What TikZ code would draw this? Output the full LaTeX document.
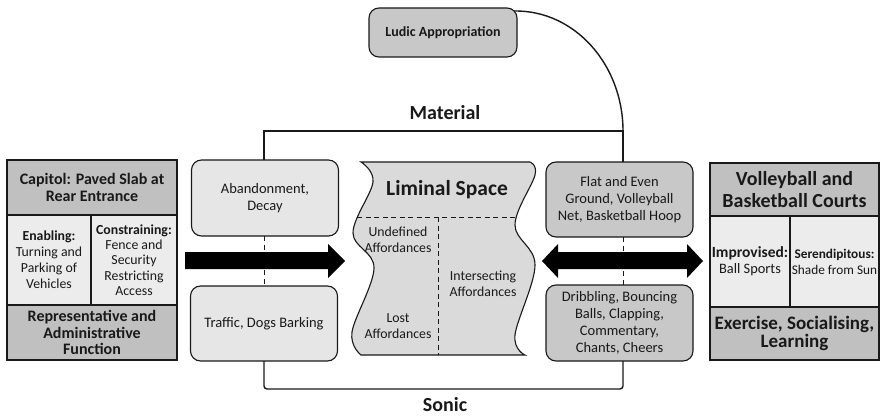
\documentclass[tikz,border=0pt]{standalone}
\usepackage{fontspec}
\setmainfont{Carlito}
\usetikzlibrary{calc}

\definecolor{headgray}{RGB}{192,192,192}
\definecolor{cellgray}{RGB}{236,236,236}
\definecolor{lightbox}{RGB}{230,230,230}
\definecolor{darkbox}{RGB}{200,200,200}
\definecolor{limgray}{RGB}{218,218,218}
\definecolor{ink}{RGB}{25,25,25}

\newcommand\fs[2]{\fontsize{#1}{#2}\selectfont}
% outline of the liminal space: wavy left and right edges
\newcommand\limpath{plot[smooth, tension=0.6] coordinates {(361,162) (373,182) (353,233) (374,268) (352,332) (361,355)}
  -- plot[smooth, tension=0.6] coordinates {(525,355) (515,335) (535,265) (515,225) (535,175) (530,162)} -- cycle}

\begin{document}
\begin{tikzpicture}[x=1pt,y=-1pt,
  every node/.style={inner sep=0pt, outer sep=0pt, text=ink},
  cell/.style={draw=ink, line width=1.2pt, rectangle, align=center},
  headcell/.style={cell, fill=headgray},
  midcell/.style={cell, fill=cellgray},
  roundbox/.style={draw=ink, line width=1.1pt, rounded corners=10pt, rectangle, align=center,
    minimum width=147pt, font=\fs{14.5}{17}},
  lightround/.style={roundbox, fill=lightbox},
  darkround/.style={roundbox, fill=darkbox},
  link/.style={draw=ink, line width=1.4pt},
  dashlink/.style={draw=ink, line width=1pt, dash pattern=on 5pt off 3.5pt},
  bigarrow/.style={fill=black, draw=none},
  label/.style={font=\bfseries\fs{20}{22}},
  limtext/.style={font=\fs{13.8}{16}, align=center}
]
\useasboundingbox (0,0) rectangle (881,417);
\fill[white] (0,0) rectangle (881,417);

% ---- left block: Capitol ----
\node[headcell, minimum width=170pt, minimum height=55pt, font=\bfseries\fs{16}{17}] (capH) at (92,187.5)
  {Capitol: Paved Slab at\\Rear Entrance};
\node[midcell, minimum width=84pt, minimum height=90pt, font=\fs{13.8}{16}] (capE) at (49,260)
  {\textbf{Enabling:}\\Turning and\\Parking of\\Vehicles};
\node[midcell, minimum width=86pt, minimum height=90pt, font=\fs{13.8}{15.3}] (capC) at (134,260)
  {\textbf{Constraining:}\\Fence and\\Security\\Restricting\\Access};
\node[headcell, minimum width=170pt, minimum height=55pt, font=\bfseries\fs{16}{16.5}] (capF) at (92,332.5)
  {Representative and\\Administrative\\Function};

% ---- right block: courts ----
\node[headcell, minimum width=169pt, minimum height=53pt, font=\bfseries\fs{20}{22}] (crtH) at (794.5,189.5)
  {Volleyball and\\Basketball Courts};
\node[midcell, minimum width=80pt, minimum height=91pt, font=\fs{14.4}{16}] (crtI) at (750,261.5)
  {{\bfseries\fs{15.5}{16}Improvised:}\\Ball Sports};
\node[midcell, minimum width=89pt, minimum height=91pt, font=\fs{13.3}{16}] (crtS) at (834.5,261.5)
  {\textbf{Serendipitous:}\\Shade from Sun};
\node[headcell, minimum width=169pt, minimum height=53pt, font=\bfseries\fs{19}{18.5}] (crtF) at (794.5,333.5)
  {Exercise, Socialising,\\Learning};

% ---- Ludic appropriation ----
\node[darkround, minimum width=148pt, minimum height=49pt, font=\bfseries\fs{14}{16}] (ludic) at (443,32.5)
  {Ludic Appropriation};

% ---- material / sonic boxes ----
\node[lightround, minimum height=76pt] (aband) at (265,198) {Abandonment,\\Decay};
\node[lightround, minimum height=75pt] (traffic) at (264,323.5) {Traffic, Dogs Barking};
\node[darkround, minimum height=75pt] (flat) at (619.5,199.5) {Flat and Even\\Ground, Volleyball\\Net, Basketball Hoop};
\node[darkround, minimum height=76pt] (drib) at (619.5,323) {Dribbling, Bouncing\\Balls, Clapping,\\Commentary,\\Chants, Cheers};

% ---- liminal space ----
\draw[draw=ink, line width=1.1pt, fill=limgray] \limpath;
\begin{scope}
  \clip \limpath;
  \draw[dashlink] (340,217) -- (560,217);
  \draw[dashlink] (438,217) -- (438,360);
\end{scope}
\node[font=\bfseries\fs{21.5}{24}] (limT) at (447,190) {Liminal Space};
\node[limtext] (undef) at (398,240) {Undefined\\Affordances};
\node[limtext] (lost) at (398,326) {Lost\\Affordances};
\node[limtext] (inter) at (483,284) {Intersecting\\Affordances};

% ---- frame labels ----
\node[label] (mat) at (445,113) {Material};
\node[label] (son) at (445,405) {Sonic};

% ---- connectors ----
\coordinate (mL) at (264,131);
\coordinate (mR) at (623,131);
\coordinate (sL) at (264,389);
\coordinate (sR) at (623,389);
\draw[link] (aband.north -| mL) -- (mL) -- (mR) -- (flat.north -| mR);
\draw[link, rounded corners=3pt] (traffic.south -| sL) -- (sL) -- (sR) -- (drib.south -| sR);
\draw[link] ($(ludic.north east)+(-3,3)$) .. controls (575,10) and (623,65) .. (mR);
\draw[dashlink] (aband.south -| mL) -- (traffic.north -| mL);
\draw[dashlink] (flat.south -| mR) -- (drib.north -| mR);

% ---- block arrows ----
\fill[bigarrow] (185,252) -- (328,252) -- (328,244) -- (345,261) -- (328,278) -- (328,269) -- (185,269) -- cycle;
\fill[bigarrow] (542,261) -- (558,244) -- (558,252) -- (687,252) -- (687,244) -- (703,261)
  -- (687,278) -- (687,269) -- (558,269) -- (558,278) -- cycle;
\end{tikzpicture}
\end{document}
